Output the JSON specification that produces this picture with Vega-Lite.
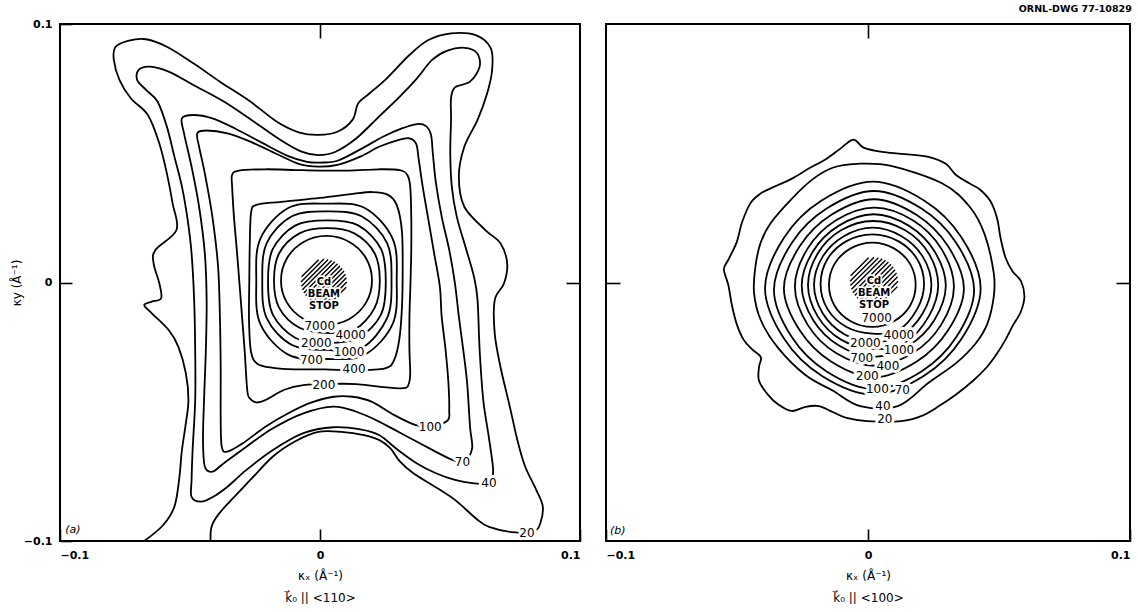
{
"$schema": "https://vega.github.io/schema/vega-lite/v6.json",
"background": "white",
"padding": {"left": 9, "top": 3, "right": 5, "bottom": 0},
"title": {"text": "ORNL-DWG 77-10829", "anchor": "end", "fontSize": 9.5, "font": "DejaVu Sans", "fontWeight": "bold", "color": "black", "offset": 4},
"config": {
  "view": {"stroke": "black", "strokeWidth": 2},
  "axis": {"domain": false, "grid": false, "tickColor": "black", "tickWidth": 1.6, "labelColor": "black", "titleColor": "black", "labelFont": "DejaVu Sans", "titleFont": "DejaVu Sans", "labelFontWeight": "bold", "labelFontSize": 11, "titleFontSize": 12, "titleFontWeight": "normal"}
},
"datasets": {
"open": [
{"i":1,"x":-0.0676,"y":-0.1},{"i":2,"x":-0.0603,"y":-0.0938},{"i":3,"x":-0.056,"y":-0.0867},{"i":4,"x":-0.0542,"y":-0.0764},{"i":5,"x":-0.0531,"y":-0.0648},{"i":6,"x":-0.0516,"y":-0.0545},{"i":7,"x":-0.0506,"y":-0.0455},{"i":8,"x":-0.0516,"y":-0.0351},{"i":9,"x":-0.0545,"y":-0.0248},{"i":10,"x":-0.0582,"y":-0.0184},{"i":11,"x":-0.0647,"y":-0.0119},{"i":12,"x":-0.0676,"y":-0.0087},{"i":13,"x":-0.0647,"y":-0.0074},{"i":14,"x":-0.0611,"y":-0.0061},{"i":15,"x":-0.0618,"y":-0.0003},{"i":16,"x":-0.064,"y":0.0074},{"i":17,"x":-0.0633,"y":0.0126},{"i":18,"x":-0.0552,"y":0.0203},{"i":19,"x":-0.0567,"y":0.0306},{"i":20,"x":-0.0589,"y":0.0422},{"i":21,"x":-0.0618,"y":0.0538},{"i":22,"x":-0.0662,"y":0.0648},{"i":23,"x":-0.0727,"y":0.0712},{"i":24,"x":-0.0771,"y":0.0783},{"i":25,"x":-0.0793,"y":0.0861},{"i":26,"x":-0.0786,"y":0.0912},{"i":27,"x":-0.0735,"y":0.0936},{"i":28,"x":-0.0669,"y":0.0941},{"i":29,"x":-0.0589,"y":0.0912},{"i":30,"x":-0.0487,"y":0.0848},{"i":31,"x":-0.0385,"y":0.0777},{"i":32,"x":-0.0268,"y":0.07},{"i":33,"x":-0.0166,"y":0.0622},{"i":34,"x":-0.0079,"y":0.058},{"i":35,"x":-0.0006,"y":0.0571},{"i":36,"x":0.0067,"y":0.0583},{"i":37,"x":0.0125,"y":0.0629},{"i":38,"x":0.0147,"y":0.0693},{"i":39,"x":0.0191,"y":0.0732},{"i":40,"x":0.0257,"y":0.079},{"i":41,"x":0.0344,"y":0.088},{"i":42,"x":0.0417,"y":0.0938},{"i":43,"x":0.0504,"y":0.0964},{"i":44,"x":0.0599,"y":0.0957},{"i":45,"x":0.0657,"y":0.0906},{"i":46,"x":0.0662,"y":0.0822},{"i":47,"x":0.0643,"y":0.0732},{"i":48,"x":0.0606,"y":0.0629},{"i":49,"x":0.0555,"y":0.0525},{"i":50,"x":0.0534,"y":0.041},{"i":51,"x":0.0555,"y":0.0293},{"i":52,"x":0.0636,"y":0.0203},{"i":53,"x":0.0694,"y":0.0152},{"i":54,"x":0.072,"y":0.0074},{"i":55,"x":0.0708,"y":-0.0003},{"i":56,"x":0.0672,"y":-0.0068},{"i":57,"x":0.0672,"y":-0.0197},{"i":58,"x":0.0694,"y":-0.0326},{"i":59,"x":0.073,"y":-0.048},{"i":60,"x":0.0759,"y":-0.0609},{"i":61,"x":0.0789,"y":-0.0712},{"i":62,"x":0.0832,"y":-0.0803},{"i":63,"x":0.0857,"y":-0.0867},{"i":64,"x":0.0847,"y":-0.0932},{"i":65,"x":0.0825,"y":-0.096},{"i":66,"x":0.0752,"y":-0.0967},{"i":67,"x":0.065,"y":-0.0945},{"i":68,"x":0.0599,"y":-0.0912},{"i":69,"x":0.0519,"y":-0.0841},{"i":70,"x":0.0431,"y":-0.0783},{"i":71,"x":0.0359,"y":-0.0738},{"i":72,"x":0.0308,"y":-0.0693},{"i":73,"x":0.0271,"y":-0.0642},{"i":74,"x":0.0227,"y":-0.0609},{"i":75,"x":0.0169,"y":-0.059},{"i":76,"x":0.0082,"y":-0.0578},{"i":77,"x":-0.0006,"y":-0.0578},{"i":78,"x":-0.0093,"y":-0.0613},{"i":79,"x":-0.0181,"y":-0.0673},{"i":80,"x":-0.0268,"y":-0.0764},{"i":81,"x":-0.0341,"y":-0.0841},{"i":82,"x":-0.0392,"y":-0.0899},{"i":83,"x":-0.0417,"y":-0.0945},{"i":84,"x":-0.0421,"y":-0.1}
],
"closed": [
{"p":"a","l":40,"i":1,"x":-0.0698,"y":0.0822},{"p":"a","l":40,"i":2,"x":-0.0655,"y":0.0835},{"p":"a","l":40,"i":3,"x":-0.0582,"y":0.0816},{"p":"a","l":40,"i":4,"x":-0.0487,"y":0.0764},{"p":"a","l":40,"i":5,"x":-0.037,"y":0.07},{"p":"a","l":40,"i":6,"x":-0.0254,"y":0.0622},{"p":"a","l":40,"i":7,"x":-0.0152,"y":0.0551},{"p":"a","l":40,"i":8,"x":-0.0071,"y":0.0506},{"p":"a","l":40,"i":9,"x":-0.0006,"y":0.0493},{"p":"a","l":40,"i":10,"x":0.006,"y":0.0506},{"p":"a","l":40,"i":11,"x":0.014,"y":0.0558},{"p":"a","l":40,"i":12,"x":0.0227,"y":0.0642},{"p":"a","l":40,"i":13,"x":0.03,"y":0.0712},{"p":"a","l":40,"i":14,"x":0.0373,"y":0.079},{"p":"a","l":40,"i":15,"x":0.0431,"y":0.0861},{"p":"a","l":40,"i":16,"x":0.049,"y":0.0897},{"p":"a","l":40,"i":17,"x":0.0555,"y":0.0908},{"p":"a","l":40,"i":18,"x":0.0603,"y":0.0889},{"p":"a","l":40,"i":19,"x":0.0614,"y":0.0835},{"p":"a","l":40,"i":20,"x":0.0577,"y":0.0777},{"p":"a","l":40,"i":21,"x":0.0519,"y":0.0755},{"p":"a","l":40,"i":22,"x":0.0504,"y":0.0712},{"p":"a","l":40,"i":23,"x":0.0504,"y":0.0629},{"p":"a","l":40,"i":24,"x":0.0501,"y":0.05},{"p":"a","l":40,"i":25,"x":0.0507,"y":0.0371},{"p":"a","l":40,"i":26,"x":0.0526,"y":0.0255},{"p":"a","l":40,"i":27,"x":0.0563,"y":0.0126},{"p":"a","l":40,"i":28,"x":0.0592,"y":0.0023},{"p":"a","l":40,"i":29,"x":0.0606,"y":-0.0068},{"p":"a","l":40,"i":30,"x":0.0614,"y":-0.0261},{"p":"a","l":40,"i":31,"x":0.0628,"y":-0.0455},{"p":"a","l":40,"i":32,"x":0.0647,"y":-0.0583},{"p":"a","l":40,"i":33,"x":0.0665,"y":-0.0712},{"p":"a","l":40,"i":34,"x":0.0662,"y":-0.0757},{"p":"a","l":40,"i":35,"x":0.0636,"y":-0.0777},{"p":"a","l":40,"i":36,"x":0.0592,"y":-0.0777},{"p":"a","l":40,"i":37,"x":0.0519,"y":-0.0764},{"p":"a","l":40,"i":38,"x":0.0446,"y":-0.0738},{"p":"a","l":40,"i":39,"x":0.0373,"y":-0.07},{"p":"a","l":40,"i":40,"x":0.03,"y":-0.0648},{"p":"a","l":40,"i":41,"x":0.0227,"y":-0.059},{"p":"a","l":40,"i":42,"x":0.0155,"y":-0.0568},{"p":"a","l":40,"i":43,"x":0.0052,"y":-0.056},{"p":"a","l":40,"i":44,"x":-0.0064,"y":-0.0583},{"p":"a","l":40,"i":45,"x":-0.0181,"y":-0.0648},{"p":"a","l":40,"i":46,"x":-0.0283,"y":-0.0725},{"p":"a","l":40,"i":47,"x":-0.0356,"y":-0.079},{"p":"a","l":40,"i":48,"x":-0.0414,"y":-0.0831},{"p":"a","l":40,"i":49,"x":-0.0458,"y":-0.0848},{"p":"a","l":40,"i":50,"x":-0.0494,"y":-0.0829},{"p":"a","l":40,"i":51,"x":-0.0494,"y":-0.0764},{"p":"a","l":40,"i":52,"x":-0.049,"y":-0.0648},{"p":"a","l":40,"i":53,"x":-0.048,"y":-0.0455},{"p":"a","l":40,"i":54,"x":-0.048,"y":-0.0261},{"p":"a","l":40,"i":55,"x":-0.0484,"y":-0.0068},{"p":"a","l":40,"i":56,"x":-0.0494,"y":0.0113},{"p":"a","l":40,"i":57,"x":-0.0509,"y":0.0242},{"p":"a","l":40,"i":58,"x":-0.0531,"y":0.0371},{"p":"a","l":40,"i":59,"x":-0.056,"y":0.0487},{"p":"a","l":40,"i":60,"x":-0.0589,"y":0.0603},{"p":"a","l":40,"i":61,"x":-0.0625,"y":0.07},{"p":"a","l":40,"i":62,"x":-0.0669,"y":0.0745},{"p":"a","l":40,"i":63,"x":-0.0703,"y":0.0783},
{"p":"a","l":70,"i":1,"x":-0.0531,"y":0.0635},{"p":"a","l":70,"i":2,"x":-0.0487,"y":0.0648},{"p":"a","l":70,"i":3,"x":-0.0414,"y":0.0635},{"p":"a","l":70,"i":4,"x":-0.0327,"y":0.0596},{"p":"a","l":70,"i":5,"x":-0.0224,"y":0.0541},{"p":"a","l":70,"i":6,"x":-0.0122,"y":0.0489},{"p":"a","l":70,"i":7,"x":-0.005,"y":0.0467},{"p":"a","l":70,"i":8,"x":0.0001,"y":0.0464},{"p":"a","l":70,"i":9,"x":0.0067,"y":0.0471},{"p":"a","l":70,"i":10,"x":0.0155,"y":0.0515},{"p":"a","l":70,"i":11,"x":0.0242,"y":0.0564},{"p":"a","l":70,"i":12,"x":0.0315,"y":0.0596},{"p":"a","l":70,"i":13,"x":0.0373,"y":0.0613},{"p":"a","l":70,"i":14,"x":0.0408,"y":0.0605},{"p":"a","l":70,"i":15,"x":0.0427,"y":0.0571},{"p":"a","l":70,"i":16,"x":0.0434,"y":0.05},{"p":"a","l":70,"i":17,"x":0.0446,"y":0.0384},{"p":"a","l":70,"i":18,"x":0.0468,"y":0.0255},{"p":"a","l":70,"i":19,"x":0.0497,"y":0.0126},{"p":"a","l":70,"i":20,"x":0.0519,"y":-0.0003},{"p":"a","l":70,"i":21,"x":0.0534,"y":-0.0132},{"p":"a","l":70,"i":22,"x":0.0551,"y":-0.0261},{"p":"a","l":70,"i":23,"x":0.0566,"y":-0.039},{"p":"a","l":70,"i":24,"x":0.0577,"y":-0.0558},{"p":"a","l":70,"i":25,"x":0.0585,"y":-0.0642},{"p":"a","l":70,"i":26,"x":0.0555,"y":-0.069},{"p":"a","l":70,"i":27,"x":0.0504,"y":-0.0684},{"p":"a","l":70,"i":28,"x":0.0373,"y":-0.0616},{"p":"a","l":70,"i":29,"x":0.0227,"y":-0.0538},{"p":"a","l":70,"i":30,"x":0.014,"y":-0.05},{"p":"a","l":70,"i":31,"x":0.0052,"y":-0.048},{"p":"a","l":70,"i":32,"x":-0.0064,"y":-0.0506},{"p":"a","l":70,"i":33,"x":-0.0181,"y":-0.0564},{"p":"a","l":70,"i":34,"x":-0.0283,"y":-0.0635},{"p":"a","l":70,"i":35,"x":-0.037,"y":-0.0699},{"p":"a","l":70,"i":36,"x":-0.0414,"y":-0.0732},{"p":"a","l":70,"i":37,"x":-0.0443,"y":-0.0712},{"p":"a","l":70,"i":38,"x":-0.045,"y":-0.0609},{"p":"a","l":70,"i":39,"x":-0.0446,"y":-0.0455},{"p":"a","l":70,"i":40,"x":-0.0439,"y":-0.0261},{"p":"a","l":70,"i":41,"x":-0.0436,"y":-0.0068},{"p":"a","l":70,"i":42,"x":-0.0443,"y":0.0113},{"p":"a","l":70,"i":43,"x":-0.0465,"y":0.0293},{"p":"a","l":70,"i":44,"x":-0.0494,"y":0.0448},{"p":"a","l":70,"i":45,"x":-0.0523,"y":0.0577},
{"p":"a","l":100,"i":1,"x":-0.0472,"y":0.0577},{"p":"a","l":100,"i":2,"x":-0.0436,"y":0.0588},{"p":"a","l":100,"i":3,"x":-0.0356,"y":0.0577},{"p":"a","l":100,"i":4,"x":-0.0268,"y":0.0545},{"p":"a","l":100,"i":5,"x":-0.0166,"y":0.0497},{"p":"a","l":100,"i":6,"x":-0.0079,"y":0.0458},{"p":"a","l":100,"i":7,"x":-0.0006,"y":0.0448},{"p":"a","l":100,"i":8,"x":0.0067,"y":0.0455},{"p":"a","l":100,"i":9,"x":0.0155,"y":0.0487},{"p":"a","l":100,"i":10,"x":0.0227,"y":0.0525},{"p":"a","l":100,"i":11,"x":0.03,"y":0.0551},{"p":"a","l":100,"i":12,"x":0.0344,"y":0.0558},{"p":"a","l":100,"i":13,"x":0.037,"y":0.0536},{"p":"a","l":100,"i":14,"x":0.038,"y":0.0474},{"p":"a","l":100,"i":15,"x":0.0395,"y":0.0371},{"p":"a","l":100,"i":16,"x":0.0417,"y":0.0242},{"p":"a","l":100,"i":17,"x":0.0439,"y":0.0113},{"p":"a","l":100,"i":18,"x":0.0461,"y":-0.0016},{"p":"a","l":100,"i":19,"x":0.0468,"y":-0.0132},{"p":"a","l":100,"i":20,"x":0.0483,"y":-0.0261},{"p":"a","l":100,"i":21,"x":0.0494,"y":-0.039},{"p":"a","l":100,"i":22,"x":0.0497,"y":-0.0493},{"p":"a","l":100,"i":23,"x":0.049,"y":-0.0535},{"p":"a","l":100,"i":24,"x":0.0424,"y":-0.0558},{"p":"a","l":100,"i":25,"x":0.0366,"y":-0.0551},{"p":"a","l":100,"i":26,"x":0.0286,"y":-0.0513},{"p":"a","l":100,"i":27,"x":0.0198,"y":-0.0461},{"p":"a","l":100,"i":28,"x":0.0125,"y":-0.0442},{"p":"a","l":100,"i":29,"x":0.0052,"y":-0.0442},{"p":"a","l":100,"i":30,"x":-0.0035,"y":-0.0465},{"p":"a","l":100,"i":31,"x":-0.0122,"y":-0.0506},{"p":"a","l":100,"i":32,"x":-0.021,"y":-0.0558},{"p":"a","l":100,"i":33,"x":-0.0297,"y":-0.0622},{"p":"a","l":100,"i":34,"x":-0.0356,"y":-0.0654},{"p":"a","l":100,"i":35,"x":-0.0378,"y":-0.0635},{"p":"a","l":100,"i":36,"x":-0.0382,"y":-0.0519},{"p":"a","l":100,"i":37,"x":-0.0382,"y":-0.0326},{"p":"a","l":100,"i":38,"x":-0.0385,"y":-0.0132},{"p":"a","l":100,"i":39,"x":-0.0392,"y":0.0061},{"p":"a","l":100,"i":40,"x":-0.0414,"y":0.0255},{"p":"a","l":100,"i":41,"x":-0.0443,"y":0.0422},{"p":"a","l":100,"i":42,"x":-0.0465,"y":0.0525},
{"p":"a","l":200,"i":1,"x":-0.0338,"y":0.0416},{"p":"a","l":200,"i":2,"x":-0.0312,"y":0.0433},{"p":"a","l":200,"i":3,"x":-0.021,"y":0.0438},{"p":"a","l":200,"i":4,"x":-0.0093,"y":0.0435},{"p":"a","l":200,"i":5,"x":0.0001,"y":0.0433},{"p":"a","l":200,"i":6,"x":0.0111,"y":0.0433},{"p":"a","l":200,"i":7,"x":0.0227,"y":0.0438},{"p":"a","l":200,"i":8,"x":0.0307,"y":0.0435},{"p":"a","l":200,"i":9,"x":0.0336,"y":0.0416},{"p":"a","l":200,"i":10,"x":0.0347,"y":0.0371},{"p":"a","l":200,"i":11,"x":0.0351,"y":0.0255},{"p":"a","l":200,"i":12,"x":0.0351,"y":0.0126},{"p":"a","l":200,"i":13,"x":0.0348,"y":-0.0003},{"p":"a","l":200,"i":14,"x":0.0344,"y":-0.0132},{"p":"a","l":200,"i":15,"x":0.0344,"y":-0.0261},{"p":"a","l":200,"i":16,"x":0.0347,"y":-0.0351},{"p":"a","l":200,"i":17,"x":0.0341,"y":-0.0393},{"p":"a","l":200,"i":18,"x":0.0322,"y":-0.0409},{"p":"a","l":200,"i":19,"x":0.0227,"y":-0.0403},{"p":"a","l":200,"i":20,"x":0.014,"y":-0.0393},{"p":"a","l":200,"i":21,"x":0.0052,"y":-0.0392},{"p":"a","l":200,"i":22,"x":-0.0064,"y":-0.0397},{"p":"a","l":200,"i":23,"x":-0.0137,"y":-0.0415},{"p":"a","l":200,"i":24,"x":-0.021,"y":-0.0455},{"p":"a","l":200,"i":25,"x":-0.0245,"y":-0.0464},{"p":"a","l":200,"i":26,"x":-0.027,"y":-0.0448},{"p":"a","l":200,"i":27,"x":-0.028,"y":-0.0415},{"p":"a","l":200,"i":28,"x":-0.029,"y":-0.026},{"p":"a","l":200,"i":29,"x":-0.03,"y":-0.013},{"p":"a","l":200,"i":30,"x":-0.031,"y":0.0},{"p":"a","l":200,"i":31,"x":-0.032,"y":0.0126},{"p":"a","l":200,"i":32,"x":-0.0331,"y":0.0255},{"p":"a","l":200,"i":33,"x":-0.0338,"y":0.0371},
{"p":"a","l":400,"i":1,"x":-0.0265,"y":0.027},{"p":"a","l":400,"i":2,"x":-0.0245,"y":0.03},{"p":"a","l":400,"i":3,"x":-0.015,"y":0.0312},{"p":"a","l":400,"i":4,"x":0.0,"y":0.0327},{"p":"a","l":400,"i":5,"x":0.012,"y":0.0342},{"p":"a","l":400,"i":6,"x":0.02,"y":0.035},{"p":"a","l":400,"i":7,"x":0.026,"y":0.034},{"p":"a","l":400,"i":8,"x":0.0295,"y":0.03},{"p":"a","l":400,"i":9,"x":0.0315,"y":0.02},{"p":"a","l":400,"i":10,"x":0.0318,"y":0.005},{"p":"a","l":400,"i":11,"x":0.0315,"y":-0.01},{"p":"a","l":400,"i":12,"x":0.0305,"y":-0.022},{"p":"a","l":400,"i":13,"x":0.0285,"y":-0.03},{"p":"a","l":400,"i":14,"x":0.025,"y":-0.0332},{"p":"a","l":400,"i":15,"x":0.013,"y":-0.034},{"p":"a","l":400,"i":16,"x":0.002,"y":-0.0336},{"p":"a","l":400,"i":17,"x":-0.01,"y":-0.0336},{"p":"a","l":400,"i":18,"x":-0.018,"y":-0.033},{"p":"a","l":400,"i":19,"x":-0.024,"y":-0.0315},{"p":"a","l":400,"i":20,"x":-0.0265,"y":-0.027},{"p":"a","l":400,"i":21,"x":-0.0273,"y":-0.015},{"p":"a","l":400,"i":22,"x":-0.0272,"y":0.0},{"p":"a","l":400,"i":23,"x":-0.027,"y":0.015},
{"p":"a","l":700,"i":1,"x":0.0295,"y":0.0005},{"p":"a","l":700,"i":2,"x":0.028,"y":0.0168},{"p":"a","l":700,"i":3,"x":0.0172,"y":0.0288},{"p":"a","l":700,"i":4,"x":0.0025,"y":0.0305},{"p":"a","l":700,"i":5,"x":-0.0122,"y":0.0288},{"p":"a","l":700,"i":6,"x":-0.023,"y":0.0168},{"p":"a","l":700,"i":7,"x":-0.0245,"y":0.0005},{"p":"a","l":700,"i":8,"x":-0.023,"y":-0.0159},{"p":"a","l":700,"i":9,"x":-0.0122,"y":-0.0279},{"p":"a","l":700,"i":10,"x":0.0025,"y":-0.0296},{"p":"a","l":700,"i":11,"x":0.0172,"y":-0.0279},{"p":"a","l":700,"i":12,"x":0.028,"y":-0.0159},
{"p":"a","l":1000,"i":1,"x":0.0275,"y":0.0007},{"p":"a","l":1000,"i":2,"x":0.0258,"y":0.0152},{"p":"a","l":1000,"i":3,"x":0.016,"y":0.0256},{"p":"a","l":1000,"i":4,"x":0.0027,"y":0.0275},{"p":"a","l":1000,"i":5,"x":-0.0108,"y":0.0256},{"p":"a","l":1000,"i":6,"x":-0.0205,"y":0.0152},{"p":"a","l":1000,"i":7,"x":-0.0222,"y":0.0007},{"p":"a","l":1000,"i":8,"x":-0.0205,"y":-0.0138},{"p":"a","l":1000,"i":9,"x":-0.0108,"y":-0.0242},{"p":"a","l":1000,"i":10,"x":0.0027,"y":-0.0261},{"p":"a","l":1000,"i":11,"x":0.016,"y":-0.0254},{"p":"a","l":1000,"i":12,"x":0.0258,"y":-0.0138},
{"p":"a","l":2000,"i":1,"x":0.0253,"y":0.0003},{"p":"a","l":2000,"i":2,"x":0.0235,"y":0.0129},{"p":"a","l":2000,"i":3,"x":0.0147,"y":0.0221},{"p":"a","l":2000,"i":4,"x":0.0027,"y":0.024},{"p":"a","l":2000,"i":5,"x":-0.0094,"y":0.0221},{"p":"a","l":2000,"i":6,"x":-0.0182,"y":0.0129},{"p":"a","l":2000,"i":7,"x":-0.02,"y":0.0003},{"p":"a","l":2000,"i":8,"x":-0.0182,"y":-0.0123},{"p":"a","l":2000,"i":9,"x":-0.0094,"y":-0.0215},{"p":"a","l":2000,"i":10,"x":0.0027,"y":-0.0234},{"p":"a","l":2000,"i":11,"x":0.0147,"y":-0.0215},{"p":"a","l":2000,"i":12,"x":0.0235,"y":-0.0123},
{"p":"a","l":4000,"i":1,"x":0.023,"y":0.0008},{"p":"a","l":4000,"i":2,"x":0.021,"y":0.0113},{"p":"a","l":4000,"i":3,"x":0.0132,"y":0.019},{"p":"a","l":4000,"i":4,"x":0.0027,"y":0.021},{"p":"a","l":4000,"i":5,"x":-0.0079,"y":0.019},{"p":"a","l":4000,"i":6,"x":-0.0157,"y":0.0113},{"p":"a","l":4000,"i":7,"x":-0.0177,"y":0.0008},{"p":"a","l":4000,"i":8,"x":-0.0157,"y":-0.0098},{"p":"a","l":4000,"i":9,"x":-0.0079,"y":-0.0175},{"p":"a","l":4000,"i":10,"x":0.0027,"y":-0.0195},{"p":"a","l":4000,"i":11,"x":0.0132,"y":-0.0183},{"p":"a","l":4000,"i":12,"x":0.021,"y":-0.0098},
{"p":"a","l":7000,"i":1,"x":0.02,"y":0.0008},{"p":"a","l":7000,"i":2,"x":0.0177,"y":0.0094},{"p":"a","l":7000,"i":3,"x":0.0113,"y":0.0157},{"p":"a","l":7000,"i":4,"x":0.0025,"y":0.018},{"p":"a","l":7000,"i":5,"x":-0.0063,"y":0.0157},{"p":"a","l":7000,"i":6,"x":-0.0127,"y":0.0094},{"p":"a","l":7000,"i":7,"x":-0.015,"y":0.0008},{"p":"a","l":7000,"i":8,"x":-0.0127,"y":-0.0078},{"p":"a","l":7000,"i":9,"x":-0.0063,"y":-0.0141},{"p":"a","l":7000,"i":10,"x":0.0025,"y":-0.0164},{"p":"a","l":7000,"i":11,"x":0.0113,"y":-0.0141},{"p":"a","l":7000,"i":12,"x":0.0177,"y":-0.0078},
{"p":"b","l":20,"i":1,"x":-0.0056,"y":0.0553},{"p":"b","l":20,"i":2,"x":-0.0017,"y":0.0522},{"p":"b","l":20,"i":3,"x":0.0061,"y":0.0504},{"p":"b","l":20,"i":4,"x":0.0153,"y":0.0496},{"p":"b","l":20,"i":5,"x":0.0231,"y":0.0486},{"p":"b","l":20,"i":6,"x":0.0297,"y":0.0459},{"p":"b","l":20,"i":7,"x":0.0336,"y":0.0416},{"p":"b","l":20,"i":8,"x":0.0388,"y":0.0383},{"p":"b","l":20,"i":9,"x":0.0427,"y":0.036},{"p":"b","l":20,"i":10,"x":0.0467,"y":0.0315},{"p":"b","l":20,"i":11,"x":0.0493,"y":0.0247},{"p":"b","l":20,"i":12,"x":0.0506,"y":0.0172},{"p":"b","l":20,"i":13,"x":0.0525,"y":0.0096},{"p":"b","l":20,"i":14,"x":0.0552,"y":0.0043},{"p":"b","l":20,"i":15,"x":0.0584,"y":0.0005},{"p":"b","l":20,"i":16,"x":0.0597,"y":-0.0055},{"p":"b","l":20,"i":17,"x":0.0582,"y":-0.0116},{"p":"b","l":20,"i":18,"x":0.0552,"y":-0.0168},{"p":"b","l":20,"i":19,"x":0.0525,"y":-0.0221},{"p":"b","l":20,"i":20,"x":0.0493,"y":-0.0274},{"p":"b","l":20,"i":21,"x":0.0454,"y":-0.0327},{"p":"b","l":20,"i":22,"x":0.0401,"y":-0.038},{"p":"b","l":20,"i":23,"x":0.0336,"y":-0.0433},{"p":"b","l":20,"i":24,"x":0.0271,"y":-0.0478},{"p":"b","l":20,"i":25,"x":0.0205,"y":-0.0516},{"p":"b","l":20,"i":26,"x":0.0127,"y":-0.0536},{"p":"b","l":20,"i":27,"x":-0.0004,"y":-0.0536},{"p":"b","l":20,"i":28,"x":-0.0082,"y":-0.0524},{"p":"b","l":20,"i":29,"x":-0.0135,"y":-0.0501},{"p":"b","l":20,"i":30,"x":-0.0187,"y":-0.0478},{"p":"b","l":20,"i":31,"x":-0.0239,"y":-0.0481},{"p":"b","l":20,"i":32,"x":-0.0292,"y":-0.0497},{"p":"b","l":20,"i":33,"x":-0.0344,"y":-0.0471},{"p":"b","l":20,"i":34,"x":-0.0383,"y":-0.0433},{"p":"b","l":20,"i":35,"x":-0.0416,"y":-0.038},{"p":"b","l":20,"i":36,"x":-0.0416,"y":-0.0327},{"p":"b","l":20,"i":37,"x":-0.0409,"y":-0.0289},{"p":"b","l":20,"i":38,"x":-0.0442,"y":-0.0259},{"p":"b","l":20,"i":39,"x":-0.0475,"y":-0.0221},{"p":"b","l":20,"i":40,"x":-0.0501,"y":-0.0161},{"p":"b","l":20,"i":41,"x":-0.052,"y":-0.0085},{"p":"b","l":20,"i":42,"x":-0.0533,"y":-0.001},{"p":"b","l":20,"i":43,"x":-0.055,"y":0.0051},{"p":"b","l":20,"i":44,"x":-0.0533,"y":0.0088},{"p":"b","l":20,"i":45,"x":-0.0501,"y":0.0156},{"p":"b","l":20,"i":46,"x":-0.0481,"y":0.0232},{"p":"b","l":20,"i":47,"x":-0.0448,"y":0.0308},{"p":"b","l":20,"i":48,"x":-0.0409,"y":0.0345},{"p":"b","l":20,"i":49,"x":-0.0357,"y":0.0371},{"p":"b","l":20,"i":50,"x":-0.0292,"y":0.0401},{"p":"b","l":20,"i":51,"x":-0.0226,"y":0.0441},{"p":"b","l":20,"i":52,"x":-0.0161,"y":0.0477},{"p":"b","l":20,"i":53,"x":-0.0108,"y":0.0516},
{"p":"b","l":40,"i":1,"x":-0.0043,"y":0.0459},{"p":"b","l":40,"i":2,"x":0.0088,"y":0.0451},{"p":"b","l":40,"i":3,"x":0.0284,"y":0.0383},{"p":"b","l":40,"i":4,"x":0.0388,"y":0.0293},{"p":"b","l":40,"i":5,"x":0.0445,"y":0.0187},{"p":"b","l":40,"i":6,"x":0.048,"y":0.0036},{"p":"b","l":40,"i":7,"x":0.048,"y":-0.0055},{"p":"b","l":40,"i":8,"x":0.0455,"y":-0.0161},{"p":"b","l":40,"i":9,"x":0.041,"y":-0.0237},{"p":"b","l":40,"i":10,"x":0.0336,"y":-0.0312},{"p":"b","l":40,"i":11,"x":0.0231,"y":-0.0388},{"p":"b","l":40,"i":12,"x":0.0114,"y":-0.0478},{"p":"b","l":40,"i":13,"x":-0.003,"y":-0.0478},{"p":"b","l":40,"i":14,"x":-0.0135,"y":-0.0418},{"p":"b","l":40,"i":15,"x":-0.0239,"y":-0.0358},{"p":"b","l":40,"i":16,"x":-0.0344,"y":-0.0252},{"p":"b","l":40,"i":17,"x":-0.0409,"y":-0.0146},{"p":"b","l":40,"i":18,"x":-0.0435,"y":-0.004},{"p":"b","l":40,"i":19,"x":-0.0429,"y":0.0066},{"p":"b","l":40,"i":20,"x":-0.0409,"y":0.0156},{"p":"b","l":40,"i":21,"x":-0.037,"y":0.0232},{"p":"b","l":40,"i":22,"x":-0.0292,"y":0.0323},{"p":"b","l":40,"i":23,"x":-0.0213,"y":0.0398},{"p":"b","l":40,"i":24,"x":-0.0135,"y":0.0444},
{"p":"b","l":70,"i":1,"x":0.043,"y":-0.0022},{"p":"b","l":70,"i":2,"x":0.0357,"y":0.0174},{"p":"b","l":70,"i":3,"x":0.0214,"y":0.0317},{"p":"b","l":70,"i":4,"x":0.0019,"y":0.039},{"p":"b","l":70,"i":5,"x":-0.0177,"y":0.0317},{"p":"b","l":70,"i":6,"x":-0.032,"y":0.0174},{"p":"b","l":70,"i":7,"x":-0.0393,"y":-0.0022},{"p":"b","l":70,"i":8,"x":-0.032,"y":-0.0218},{"p":"b","l":70,"i":9,"x":-0.0177,"y":-0.0361},{"p":"b","l":70,"i":10,"x":0.0019,"y":-0.0434},{"p":"b","l":70,"i":11,"x":0.0214,"y":-0.0361},{"p":"b","l":70,"i":12,"x":0.0357,"y":-0.0218},
{"p":"b","l":100,"i":1,"x":0.0405,"y":-0.0029},{"p":"b","l":100,"i":2,"x":0.0337,"y":0.0153},{"p":"b","l":100,"i":3,"x":0.0204,"y":0.0286},{"p":"b","l":100,"i":4,"x":0.0023,"y":0.0354},{"p":"b","l":100,"i":5,"x":-0.0158,"y":0.0286},{"p":"b","l":100,"i":6,"x":-0.0291,"y":0.0153},{"p":"b","l":100,"i":7,"x":-0.0359,"y":-0.0029},{"p":"b","l":100,"i":8,"x":-0.0291,"y":-0.0211},{"p":"b","l":100,"i":9,"x":-0.0158,"y":-0.0344},{"p":"b","l":100,"i":10,"x":0.0023,"y":-0.0412},{"p":"b","l":100,"i":11,"x":0.0204,"y":-0.0344},{"p":"b","l":100,"i":12,"x":0.0337,"y":-0.0211},
{"p":"b","l":200,"i":1,"x":0.0366,"y":-0.0023},{"p":"b","l":200,"i":2,"x":0.0305,"y":0.0141},{"p":"b","l":200,"i":3,"x":0.0186,"y":0.0261},{"p":"b","l":200,"i":4,"x":0.0023,"y":0.0322},{"p":"b","l":200,"i":5,"x":-0.0141,"y":0.0261},{"p":"b","l":200,"i":6,"x":-0.026,"y":0.0141},{"p":"b","l":200,"i":7,"x":-0.0321,"y":-0.0023},{"p":"b","l":200,"i":8,"x":-0.026,"y":-0.0186},{"p":"b","l":200,"i":9,"x":-0.0141,"y":-0.0306},{"p":"b","l":200,"i":10,"x":0.0023,"y":-0.0367},{"p":"b","l":200,"i":11,"x":0.0186,"y":-0.0306},{"p":"b","l":200,"i":12,"x":0.0305,"y":-0.0186},
{"p":"b","l":400,"i":1,"x":0.0328,"y":-0.0016},{"p":"b","l":400,"i":2,"x":0.0279,"y":0.0132},{"p":"b","l":400,"i":3,"x":0.0171,"y":0.0241},{"p":"b","l":400,"i":4,"x":0.0025,"y":0.029},{"p":"b","l":400,"i":5,"x":-0.0122,"y":0.0241},{"p":"b","l":400,"i":6,"x":-0.023,"y":0.0132},{"p":"b","l":400,"i":7,"x":-0.0279,"y":-0.0016},{"p":"b","l":400,"i":8,"x":-0.023,"y":-0.0164},{"p":"b","l":400,"i":9,"x":-0.0122,"y":-0.0273},{"p":"b","l":400,"i":10,"x":0.0025,"y":-0.0322},{"p":"b","l":400,"i":11,"x":0.0171,"y":-0.0273},{"p":"b","l":400,"i":12,"x":0.0279,"y":-0.0164},
{"p":"b","l":700,"i":1,"x":0.0297,"y":-0.0012},{"p":"b","l":700,"i":2,"x":0.0253,"y":0.0122},{"p":"b","l":700,"i":3,"x":0.0155,"y":0.022},{"p":"b","l":700,"i":4,"x":0.0022,"y":0.0264},{"p":"b","l":700,"i":5,"x":-0.0111,"y":0.022},{"p":"b","l":700,"i":6,"x":-0.0209,"y":0.0122},{"p":"b","l":700,"i":7,"x":-0.0253,"y":-0.0012},{"p":"b","l":700,"i":8,"x":-0.0209,"y":-0.0146},{"p":"b","l":700,"i":9,"x":-0.0111,"y":-0.0244},{"p":"b","l":700,"i":10,"x":0.0022,"y":-0.0288},{"p":"b","l":700,"i":11,"x":0.0155,"y":-0.0244},{"p":"b","l":700,"i":12,"x":0.0253,"y":-0.0146},
{"p":"b","l":1000,"i":1,"x":0.0268,"y":-0.001},{"p":"b","l":1000,"i":2,"x":0.0232,"y":0.0112},{"p":"b","l":1000,"i":3,"x":0.0142,"y":0.0202},{"p":"b","l":1000,"i":4,"x":0.002,"y":0.0238},{"p":"b","l":1000,"i":5,"x":-0.0103,"y":0.0202},{"p":"b","l":1000,"i":6,"x":-0.0192,"y":0.0112},{"p":"b","l":1000,"i":7,"x":-0.0229,"y":-0.001},{"p":"b","l":1000,"i":8,"x":-0.0192,"y":-0.0131},{"p":"b","l":1000,"i":9,"x":-0.0103,"y":-0.0221},{"p":"b","l":1000,"i":10,"x":0.002,"y":-0.0257},{"p":"b","l":1000,"i":11,"x":0.0142,"y":-0.0232},{"p":"b","l":1000,"i":12,"x":0.0232,"y":-0.0131},
{"p":"b","l":2000,"i":1,"x":0.0242,"y":-0.001},{"p":"b","l":2000,"i":2,"x":0.0209,"y":0.01},{"p":"b","l":2000,"i":3,"x":0.0128,"y":0.0179},{"p":"b","l":2000,"i":4,"x":0.0018,"y":0.0212},{"p":"b","l":2000,"i":5,"x":-0.0092,"y":0.0179},{"p":"b","l":2000,"i":6,"x":-0.0173,"y":0.01},{"p":"b","l":2000,"i":7,"x":-0.0206,"y":-0.001},{"p":"b","l":2000,"i":8,"x":-0.0173,"y":-0.0119},{"p":"b","l":2000,"i":9,"x":-0.0092,"y":-0.0199},{"p":"b","l":2000,"i":10,"x":0.0018,"y":-0.0231},{"p":"b","l":2000,"i":11,"x":0.0128,"y":-0.0205},{"p":"b","l":2000,"i":12,"x":0.0209,"y":-0.0119},
{"p":"b","l":4000,"i":1,"x":0.0214,"y":-0.0006},{"p":"b","l":4000,"i":2,"x":0.0188,"y":0.009},{"p":"b","l":4000,"i":3,"x":0.0115,"y":0.016},{"p":"b","l":4000,"i":4,"x":0.0017,"y":0.0186},{"p":"b","l":4000,"i":5,"x":-0.0082,"y":0.016},{"p":"b","l":4000,"i":6,"x":-0.0155,"y":0.009},{"p":"b","l":4000,"i":7,"x":-0.0181,"y":-0.0006},{"p":"b","l":4000,"i":8,"x":-0.0155,"y":-0.0102},{"p":"b","l":4000,"i":9,"x":-0.0082,"y":-0.0172},{"p":"b","l":4000,"i":10,"x":0.0017,"y":-0.0198},{"p":"b","l":4000,"i":11,"x":0.0115,"y":-0.0185},{"p":"b","l":4000,"i":12,"x":0.0188,"y":-0.0102},
{"p":"b","l":7000,"i":1,"x":0.0182,"y":-0.0009},{"p":"b","l":7000,"i":2,"x":0.016,"y":0.0073},{"p":"b","l":7000,"i":3,"x":0.0099,"y":0.0132},{"p":"b","l":7000,"i":4,"x":0.0017,"y":0.0154},{"p":"b","l":7000,"i":5,"x":-0.0066,"y":0.0132},{"p":"b","l":7000,"i":6,"x":-0.0127,"y":0.0073},{"p":"b","l":7000,"i":7,"x":-0.0149,"y":-0.0009},{"p":"b","l":7000,"i":8,"x":-0.0127,"y":-0.0091},{"p":"b","l":7000,"i":9,"x":-0.0066,"y":-0.015},{"p":"b","l":7000,"i":10,"x":0.0017,"y":-0.0172},{"p":"b","l":7000,"i":11,"x":0.0099,"y":-0.015},{"p":"b","l":7000,"i":12,"x":0.016,"y":-0.0091}
],
"labels": [
{"p":"a","x":-0.0001,"y":-0.0168,"t":"7000"},{"p":"a","x":0.0118,"y":-0.0203,"t":"4000"},{"p":"a","x":-0.0014,"y":-0.0235,"t":"2000"},{"p":"a","x":0.0112,"y":-0.0268,"t":"1000"},{"p":"a","x":-0.0033,"y":-0.03,"t":"700"},{"p":"a","x":0.0131,"y":-0.0336,"t":"400"},{"p":"a","x":0.0015,"y":-0.0397,"t":"200"},{"p":"a","x":0.0424,"y":-0.0558,"t":"100"},{"p":"a","x":0.0548,"y":-0.0693,"t":"70"},{"p":"a","x":0.065,"y":-0.0774,"t":"40"},{"p":"a","x":0.0796,"y":-0.097,"t":"20"},
{"p":"b","x":0.0033,"y":-0.0137,"t":"7000"},{"p":"b","x":0.0118,"y":-0.0202,"t":"4000"},{"p":"b","x":-0.001,"y":-0.0234,"t":"2000"},{"p":"b","x":0.0118,"y":-0.026,"t":"1000"},{"p":"b","x":-0.0024,"y":-0.0292,"t":"700"},{"p":"b","x":0.0076,"y":-0.0322,"t":"400"},{"p":"b","x":-0.0003,"y":-0.0363,"t":"200"},{"p":"b","x":0.0036,"y":-0.0412,"t":"100"},{"p":"b","x":0.0131,"y":-0.0415,"t":"70"},{"p":"b","x":0.0057,"y":-0.0477,"t":"40"},{"p":"b","x":0.0064,"y":-0.0528,"t":"20"}
],
"stops": [
{"p":"a","x":0.0015,"y":0.0002,"t":"Cd BEAM STOP"},{"p":"b","x":0.0023,"y":0.0005,"t":"Cd BEAM STOP"}
],
"tags": [
{"p":"a","x":-0.098,"y":-0.0957,"t":"(a)"},{"p":"b","x":-0.0985,"y":-0.0961,"t":"(b)"}
]
},
"spacing": 26,
"bounds": "flush",
"hconcat": [
{
"width": 520, "height": 517,
"resolve": {"axis": {"x": "independent", "y": "independent"}},
"layer": [
{"data": {"name": "closed"}, "transform": [{"filter": "datum.p == 'a'"}],
 "mark": {"type": "line", "interpolate": "cardinal-closed", "stroke": "black", "strokeWidth": 1.8, "clip": true},
 "encoding": {
  "x": {"field": "x", "type": "quantitative", "scale": {"domain": [-0.1, 0.1], "nice": false, "zero": false},
        "axis": {"orient": "bottom", "values": [-0.1, 0, 0.1], "format": ".1~f", "tickSize": -12, "labelPadding": 20, "title": ["κₓ (Å⁻¹)", "k⃗₀ || <110>"], "titlePadding": 10, "titleLineHeight": 22}},
  "y": {"field": "y", "type": "quantitative", "scale": {"domain": [-0.1, 0.1], "nice": false, "zero": false},
        "axis": {"orient": "left", "values": [-0.1, 0, 0.1], "format": ".1~f", "tickSize": -12, "labelPadding": 20, "title": "κy (Å⁻¹)", "titlePadding": 0}},
  "detail": {"field": "l", "type": "nominal"},
  "order": {"field": "i", "type": "quantitative"}
 }},
{"data": {"name": "open"},
 "mark": {"type": "line", "interpolate": "cardinal", "stroke": "black", "strokeWidth": 1.8, "clip": true},
 "encoding": {
  "x": {"field": "x", "type": "quantitative", "scale": {"domain": [-0.1, 0.1], "nice": false, "zero": false}, "axis": {"orient": "top", "values": [0], "labels": false, "tickSize": -14, "title": null}},
  "y": {"field": "y", "type": "quantitative", "scale": {"domain": [-0.1, 0.1], "nice": false, "zero": false}, "axis": {"orient": "right", "values": [0], "labels": false, "tickSize": -14, "title": null}},
  "order": {"field": "i", "type": "quantitative"}
 }},
{"data": {"name": "labels"}, "transform": [{"filter": "datum.p == 'a'"}],
 "mark": {"type": "text", "font": "DejaVu Sans", "fontSize": 12, "stroke": "white", "strokeWidth": 6, "fill": "white", "strokeJoin": "round"},
 "encoding": {"x": {"field": "x", "type": "quantitative", "axis": null}, "y": {"field": "y", "type": "quantitative", "axis": null}, "text": {"field": "t"}}},
{"data": {"name": "labels"}, "transform": [{"filter": "datum.p == 'a'"}],
 "mark": {"type": "text", "font": "DejaVu Sans", "fontSize": 12, "color": "black"},
 "encoding": {"x": {"field": "x", "type": "quantitative", "axis": null}, "y": {"field": "y", "type": "quantitative", "axis": null}, "text": {"field": "t"}}},
{"data": {"name": "stops"}, "transform": [{"filter": "datum.p == 'a'"}],
 "mark": {"type": "point", "filled": false, "stroke": "black", "strokeWidth": 1.4, "opacity": 1, "size": 2100,
  "shape": "M-0.707,0.707L0.707,-0.707M-0.6,0.8L0.8,-0.6M-0.478,0.878L0.878,-0.478M-0.34,0.94L0.94,-0.34M-0.183,0.983L0.983,-0.183M0,1L1,0M0.226,0.974L0.974,0.226M-0.8,0.6L0.6,-0.8M-0.878,0.478L0.478,-0.878M-0.94,0.34L0.34,-0.94M-0.983,0.183L0.183,-0.983M-1,0L0,-1M-0.974,-0.226L-0.226,-0.974"},
 "encoding": {"x": {"field": "x", "type": "quantitative", "axis": null}, "y": {"field": "y", "type": "quantitative", "axis": null}}},
{"data": {"name": "stops"}, "transform": [{"filter": "datum.p == 'a'"}],
 "mark": {"type": "text", "font": "DejaVu Sans", "fontSize": 10, "fontWeight": "bold", "lineBreak": " ", "lineHeight": 12, "stroke": "white", "strokeWidth": 3.5, "fill": "white", "strokeJoin": "round"},
 "encoding": {"x": {"field": "x", "type": "quantitative", "axis": null}, "y": {"field": "y", "type": "quantitative", "axis": null}, "text": {"field": "t"}}},
{"data": {"name": "stops"}, "transform": [{"filter": "datum.p == 'a'"}],
 "mark": {"type": "text", "font": "DejaVu Sans", "fontSize": 10, "fontWeight": "bold", "lineBreak": " ", "lineHeight": 12, "color": "black"},
 "encoding": {"x": {"field": "x", "type": "quantitative", "axis": null}, "y": {"field": "y", "type": "quantitative", "axis": null}, "text": {"field": "t"}}},
{"data": {"name": "tags"}, "transform": [{"filter": "datum.p == 'a'"}],
 "mark": {"type": "text", "font": "DejaVu Sans", "fontSize": 11, "fontStyle": "italic", "align": "left", "color": "black"},
 "encoding": {"x": {"field": "x", "type": "quantitative", "axis": null}, "y": {"field": "y", "type": "quantitative", "axis": null}, "text": {"field": "t"}}}
]
},
{
"width": 524, "height": 517,
"resolve": {"axis": {"x": "independent", "y": "independent"}},
"layer": [
{"data": {"name": "closed"}, "transform": [{"filter": "datum.p == 'b'"}],
 "mark": {"type": "line", "interpolate": "cardinal-closed", "stroke": "black", "strokeWidth": 1.8, "clip": true},
 "encoding": {
  "x": {"field": "x", "type": "quantitative", "scale": {"domain": [-0.1, 0.1], "nice": false, "zero": false},
        "axis": {"orient": "bottom", "values": [-0.1, 0, 0.1], "format": ".1~f", "tickSize": -12, "labelPadding": 20, "title": ["κₓ (Å⁻¹)", "k⃗₀ || <100>"], "titlePadding": 10, "titleLineHeight": 22}},
  "y": {"field": "y", "type": "quantitative", "scale": {"domain": [-0.1, 0.1], "nice": false, "zero": false},
        "axis": {"orient": "left", "values": [0], "labels": false, "tickSize": -14, "title": null}},
  "detail": {"field": "l", "type": "nominal"},
  "order": {"field": "i", "type": "quantitative"}
 }},
{"data": {"name": "labels"}, "transform": [{"filter": "datum.p == 'b'"}],
 "mark": {"type": "text", "font": "DejaVu Sans", "fontSize": 12, "stroke": "white", "strokeWidth": 6, "fill": "white", "strokeJoin": "round"},
 "encoding": {"x": {"field": "x", "type": "quantitative", "scale": {"domain": [-0.1, 0.1], "nice": false, "zero": false}, "axis": {"orient": "top", "values": [0], "labels": false, "tickSize": -14, "title": null}}, "y": {"field": "y", "type": "quantitative", "scale": {"domain": [-0.1, 0.1], "nice": false, "zero": false}, "axis": {"orient": "right", "values": [0], "labels": false, "tickSize": -14, "title": null}}, "text": {"field": "t"}}},
{"data": {"name": "labels"}, "transform": [{"filter": "datum.p == 'b'"}],
 "mark": {"type": "text", "font": "DejaVu Sans", "fontSize": 12, "color": "black"},
 "encoding": {"x": {"field": "x", "type": "quantitative", "axis": null}, "y": {"field": "y", "type": "quantitative", "axis": null}, "text": {"field": "t"}}},
{"data": {"name": "stops"}, "transform": [{"filter": "datum.p == 'b'"}],
 "mark": {"type": "point", "filled": false, "stroke": "black", "strokeWidth": 1.4, "opacity": 1, "size": 2300,
  "shape": "M-0.707,0.707L0.707,-0.707M-0.6,0.8L0.8,-0.6M-0.478,0.878L0.878,-0.478M-0.34,0.94L0.94,-0.34M-0.183,0.983L0.983,-0.183M0,1L1,0M0.226,0.974L0.974,0.226M-0.8,0.6L0.6,-0.8M-0.878,0.478L0.478,-0.878M-0.94,0.34L0.34,-0.94M-0.983,0.183L0.183,-0.983M-1,0L0,-1M-0.974,-0.226L-0.226,-0.974"},
 "encoding": {"x": {"field": "x", "type": "quantitative", "axis": null}, "y": {"field": "y", "type": "quantitative", "axis": null}}},
{"data": {"name": "stops"}, "transform": [{"filter": "datum.p == 'b'"}],
 "mark": {"type": "text", "font": "DejaVu Sans", "fontSize": 10, "fontWeight": "bold", "lineBreak": " ", "lineHeight": 12, "stroke": "white", "strokeWidth": 3.5, "fill": "white", "strokeJoin": "round"},
 "encoding": {"x": {"field": "x", "type": "quantitative", "axis": null}, "y": {"field": "y", "type": "quantitative", "axis": null}, "text": {"field": "t"}}},
{"data": {"name": "stops"}, "transform": [{"filter": "datum.p == 'b'"}],
 "mark": {"type": "text", "font": "DejaVu Sans", "fontSize": 10, "fontWeight": "bold", "lineBreak": " ", "lineHeight": 12, "color": "black"},
 "encoding": {"x": {"field": "x", "type": "quantitative", "axis": null}, "y": {"field": "y", "type": "quantitative", "axis": null}, "text": {"field": "t"}}},
{"data": {"name": "tags"}, "transform": [{"filter": "datum.p == 'b'"}],
 "mark": {"type": "text", "font": "DejaVu Sans", "fontSize": 11, "fontStyle": "italic", "align": "left", "color": "black"},
 "encoding": {"x": {"field": "x", "type": "quantitative", "axis": null}, "y": {"field": "y", "type": "quantitative", "axis": null}, "text": {"field": "t"}}}
]
}
]
}
